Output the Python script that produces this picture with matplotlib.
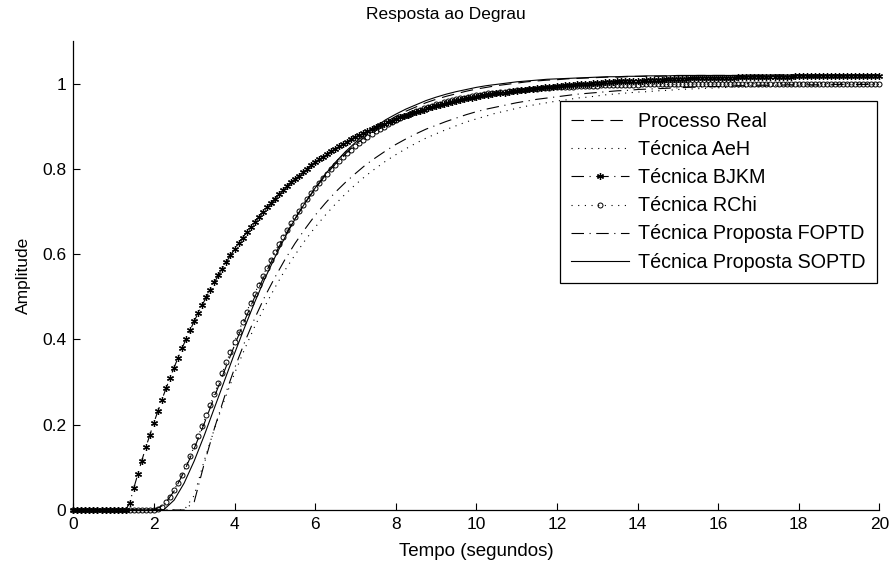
import matplotlib
matplotlib.use("Agg")
import matplotlib.pyplot as plt

plt.rcParams['font.family'] = ['Liberation Sans', 'DejaVu Sans']
plt.rcParams['lines.scale_dashes'] = False

# time grid of the marker series (s)
t_mark = [0, .1, .2, .3, .4, .5, .6, .7, .8, .9,
          1, 1.1, 1.2, 1.3, 1.4, 1.5, 1.6, 1.7, 1.8, 1.9,
          2, 2.1, 2.2, 2.3, 2.4, 2.5, 2.6, 2.7, 2.8, 2.9,
          3, 3.1, 3.2, 3.3, 3.4, 3.5, 3.6, 3.7, 3.8, 3.9,
          4, 4.1, 4.2, 4.3, 4.4, 4.5, 4.6, 4.7, 4.8, 4.9,
          5, 5.1, 5.2, 5.3, 5.4, 5.5, 5.6, 5.7, 5.8, 5.9,
          6, 6.1, 6.2, 6.3, 6.4, 6.5, 6.6, 6.7, 6.8, 6.9,
          7, 7.1, 7.2, 7.3, 7.4, 7.5, 7.6, 7.7, 7.8, 7.9,
          8, 8.1, 8.2, 8.3, 8.4, 8.5, 8.6, 8.7, 8.8, 8.9,
          9, 9.1, 9.2, 9.3, 9.4, 9.5, 9.6, 9.7, 9.8, 9.9,
          10, 10.1, 10.2, 10.3, 10.4, 10.5, 10.6, 10.7, 10.8, 10.9,
          11, 11.1, 11.2, 11.3, 11.4, 11.5, 11.6, 11.7, 11.8, 11.9,
          12, 12.1, 12.2, 12.3, 12.4, 12.5, 12.6, 12.7, 12.8, 12.9,
          13, 13.1, 13.2, 13.3, 13.4, 13.5, 13.6, 13.7, 13.8, 13.9,
          14, 14.1, 14.2, 14.3, 14.4, 14.5, 14.6, 14.7, 14.8, 14.9,
          15, 15.1, 15.2, 15.3, 15.4, 15.5, 15.6, 15.7, 15.8, 15.9,
          16, 16.1, 16.2, 16.3, 16.4, 16.5, 16.6, 16.7, 16.8, 16.9,
          17, 17.1, 17.2, 17.3, 17.4, 17.5, 17.6, 17.7, 17.8, 17.9,
          18, 18.1, 18.2, 18.3, 18.4, 18.5, 18.6, 18.7, 18.8, 18.9,
          19, 19.1, 19.2, 19.3, 19.4, 19.5, 19.6, 19.7, 19.8, 19.9,
          20]

# time grid of the plain line series (s)
t_line = [0, .25, .5, .75, 1, 1.25, 1.5, 1.75, 2, 2.25,
          2.5, 2.75, 3, 3.25, 3.5, 3.75, 4, 4.25, 4.5, 4.75,
          5, 5.25, 5.5, 5.75, 6, 6.25, 6.5, 6.75, 7, 7.25,
          7.5, 7.75, 8, 8.25, 8.5, 8.75, 9, 9.25, 9.5, 9.75,
          10, 10.25, 10.5, 10.75, 11, 11.25, 11.5, 11.75, 12, 12.25,
          12.5, 12.75, 13, 13.25, 13.5, 13.75, 14, 14.25, 14.5, 14.75,
          15, 15.25, 15.5, 15.75, 16, 16.25, 16.5, 16.75, 17, 17.25,
          17.5, 17.75, 18, 18.25, 18.5, 18.75, 19, 19.25, 19.5, 19.75,
          20]

processo_real = [0, 0, 0, 0, 0, 0, 0, 0, 0,
                 .012, .044, .09, .144, .203, .265, .326, .386, .444, .499,
                 .551, .599, .643, .683, .72, .753, .784, .811, .835, .857,
                 .876, .894, .909, .923, .935, .945, .955, .963, .97, .976,
                 .982, .987, .991, .995, .998, 1.001, 1.004, 1.006, 1.008, 1.009,
                 1.011, 1.012, 1.013, 1.014, 1.015, 1.015, 1.016, 1.017, 1.017, 1.017,
                 1.018, 1.018, 1.018,
                 1.019, 1.019, 1.019, 1.019, 1.019, 1.019, 1.019, 1.019,
                 1.02, 1.02, 1.02, 1.02, 1.02, 1.02, 1.02, 1.02, 1.02, 1.02, 1.02]

tecnica_aeh = [0, 0, 0, 0, 0, 0, 0, 0, 0, 0, 0, 0,
               .034, .116, .19, .258, .32, .377, .43, .477, .521, .562,
               .598, .632, .663, .691, .717, .741, .763, .783, .801, .818,
               .833, .847, .86, .872, .882, .892, .901, .91, .917, .924,
               .931, .936, .942, .947, .951, .955, .959, .962, .966, .968,
               .971, .974, .976, .978, .98, .981, .983, .984, .986, .987,
               .988, .989, .99, .991, .992, .992, .993, .993, .994, .995,
               .995, .995, .996, .996, .996, .997, .997, .997, .998]

tecnica_bjkm = [0, 0, 0, 0, 0, 0, 0, 0, 0, 0, 0, 0, 0, 0,
                .017, .051, .084, .116, .147, .176, .205, .232, .259, .285,
                .31, .334, .357, .38, .401, .422, .443, .462,
                .481, .499, .517, .534, .55, .566, .582, .597, .611, .625,
                .638, .651, .664, .676, .687, .699, .71, .72, .73, .74,
                .75, .759, .768, .776, .784, .792, .8, .808, .815, .822,
                .828, .835, .841, .847, .853, .859, .864, .87, .875, .88,
                .884, .889, .893, .898, .902, .906, .91, .913, .917, .921,
                .924, .927, .93, .933, .936, .939, .942, .945, .947, .95,
                .952, .954, .956, .959, .961, .963, .965, .967, .968, .97,
                .972, .973, .975, .977, .978, .979, .981, .982, .983, .985,
                .986, .987, .988, .989, .99, .991, .992, .993, .994, .995,
                .996, .997, .997, .998, .999, 1, 1, 1.001, 1.002, 1.002,
                1.003, 1.003, 1.004, 1.005, 1.005, 1.006, 1.006, 1.007, 1.007, 1.007,
                1.008, 1.008, 1.009, 1.009, 1.009, 1.01, 1.01, 1.01, 1.011, 1.011,
                1.011, 1.012, 1.012, 1.012, 1.013, 1.013, 1.013, 1.013, 1.013, 1.014,
                1.014, 1.014, 1.014, 1.015, 1.015, 1.015, 1.015, 1.015, 1.015, 1.016,
                1.016, 1.016, 1.016, 1.016, 1.016, 1.016, 1.016, 1.017, 1.017, 1.017,
                1.017, 1.017, 1.017, 1.017, 1.017, 1.017, 1.018, 1.018, 1.018, 1.018,
                1.018, 1.018, 1.018, 1.018, 1.018, 1.018, 1.018, 1.018, 1.018]

tecnica_rchi = [0, 0, 0, 0, 0, 0, 0, 0, 0, 0, 0, 0, 0, 0, 0, 0, 0, 0, 0, 0, 0,
                .002, .008, .018, .031, .046, .064, .083, .104, .126, .149,
                .173, .197, .222, .247, .272, .297, .322, .346, .371, .394,
                .418, .441, .464, .486, .507, .528, .548, .568, .587, .605,
                .623, .64, .656, .672, .687, .702, .716, .73, .743, .755,
                .767, .778, .789, .8, .81, .819, .828, .837, .845, .853,
                .861, .868, .875, .881, .888, .893, .899, .904, .909, .914,
                .919, .923, .927, .931, .935, .938, .942, .945, .948, .951,
                .953, .956, .958, .961, .963, .965, .967, .969, .97, .972,
                .974, .975, .977, .978, .979, .98, .981, .982, .983, .984,
                .985, .986, .987, .988, .988, .989, .99, .99, .991, .991,
                .992, .992, .993, .993, .994, .994, .994, .995, .995, .995,
                .996, .996, .996, .996, .996, .997, .997, .997, .997, .997,
                .998, .998, .998, .998, .998, .998, .998, .998, .998,
                .999, .999, .999, .999, .999, .999, .999, .999, .999, .999,
                .999, .999, .999, .999, .999, .999, .999,
                1, 1, 1, 1, 1, 1, 1, 1, 1, 1, 1, 1, 1, 1, 1, 1, 1,
                1, 1, 1, 1, 1, 1, 1, 1, 1, 1, 1, 1, 1, 1, 1, 1, 1]

proposta_foptd = [0, 0, 0, 0, 0, 0, 0, 0, 0, 0, 0, 0,
                  .019, .109, .191, .265, .332, .393, .449, .5, .545, .587,
                  .625, .659, .691, .719, .745, .768, .789, .809, .826, .842,
                  .857, .87, .882, .893, .902, .911, .919, .927, .934, .94,
                  .945, .95, .955, .959, .963, .966, .969, .972, .975, .977,
                  .979, .981, .983, .984, .986, .987, .988, .989, .99, .991,
                  .992, .993, .993, .994, .995, .995, .996, .996, .996, .997,
                  .997, .997, .997, .998, .998, .998, .998, .998, .999]

proposta_soptd = [0, 0, 0, 0, 0, 0, 0, 0, 0,
                  .001, .023, .063, .115, .175, .239, .303, .367, .428, .487,
                  .542, .592, .639, .682, .72, .755, .787, .815, .84, .862,
                  .882, .899, .915, .928, .94, .95, .96, .968, .975, .981,
                  .986, .991, .995, .998, 1.001, 1.004, 1.006, 1.008, 1.01, 1.011,
                  1.012, 1.013, 1.014, 1.015, 1.016, 1.016, 1.017, 1.017, 1.018, 1.018,
                  1.018, 1.019,
                  1.019, 1.019, 1.019, 1.019, 1.019, 1.019,
                  1.02, 1.02, 1.02, 1.02, 1.02, 1.02, 1.02, 1.02, 1.02, 1.02,
                  1.02, 1.02, 1.02, 1.02]

labels = ['Processo Real', 'Técnica AeH', 'Técnica BJKM', 'Técnica RChi',
          'Técnica Proposta FOPTD', 'Técnica Proposta SOPTD']
x_ticks = [0, 2, 4, 6, 8, 10, 12, 14, 16, 18, 20]
y_ticks = [0, 0.2, 0.4, 0.6, 0.8, 1.0]
y_tick_labels = ['0', '0.2', '0.4', '0.6', '0.8', '1']

fig = plt.figure(figsize=(8.92, 5.64), dpi=100)
ax = fig.add_axes([73.3 / 892, 54 / 564, 806 / 892, 469.1 / 564])

lw = 0.8
ax.plot(t_line, processo_real, color='black', lw=lw, dashes=(9, 5), label=labels[0])
ax.plot(t_line, tecnica_aeh, color='black', lw=lw, dashes=(0.8, 4), label=labels[1])
ax.plot(t_mark, tecnica_bjkm, color='black', lw=lw, dashes=(9, 4, 0.8, 4),
        marker=(6, 2, 0), ms=5, mew=0.9, label=labels[2], clip_on=False)
ax.plot(t_mark, tecnica_rchi, color='black', lw=lw, dashes=(0.8, 4), marker='o',
        ms=3.6, mfc='none', mec='black', mew=0.7, label=labels[3], clip_on=False)
ax.plot(t_line, proposta_foptd, color='black', lw=lw, dashes=(9, 4, 0.8, 4), label=labels[4])
ax.plot(t_line, proposta_soptd, color='black', lw=lw, label=labels[5])

ax.set_xlim(0, 20)
ax.set_ylim(0, 1.1)
ax.set_xticks(x_ticks)
ax.set_xticklabels([str(v) for v in x_ticks])
ax.set_yticks(y_ticks)
ax.set_yticklabels(y_tick_labels)
for s in ['top', 'right']:
    ax.spines[s].set_visible(False)
for s in ['left', 'bottom']:
    ax.spines[s].set_linewidth(0.9)
ax.tick_params(direction='in', length=5, width=0.8, labelsize=12.5, pad=5)
ax.set_xlabel('Tempo (segundos)', fontsize=13.5, labelpad=8)
ax.set_ylabel('Amplitude', fontsize=12.5, labelpad=8)
fig.text(0.5, 1 - 15 / 564, 'Resposta ao Degrau', ha='center', va='center', fontsize=12.5)

leg = ax.legend(loc='upper right', bbox_to_anchor=(0.997, 0.872), fontsize=14.2,
                frameon=True, fancybox=False, framealpha=1, edgecolor='black',
                handlelength=2.95, handletextpad=0.45, labelspacing=0.46,
                borderpad=0.57, borderaxespad=0)
leg.get_frame().set_linewidth(0.9)

fig.savefig('out.png', dpi=100)
